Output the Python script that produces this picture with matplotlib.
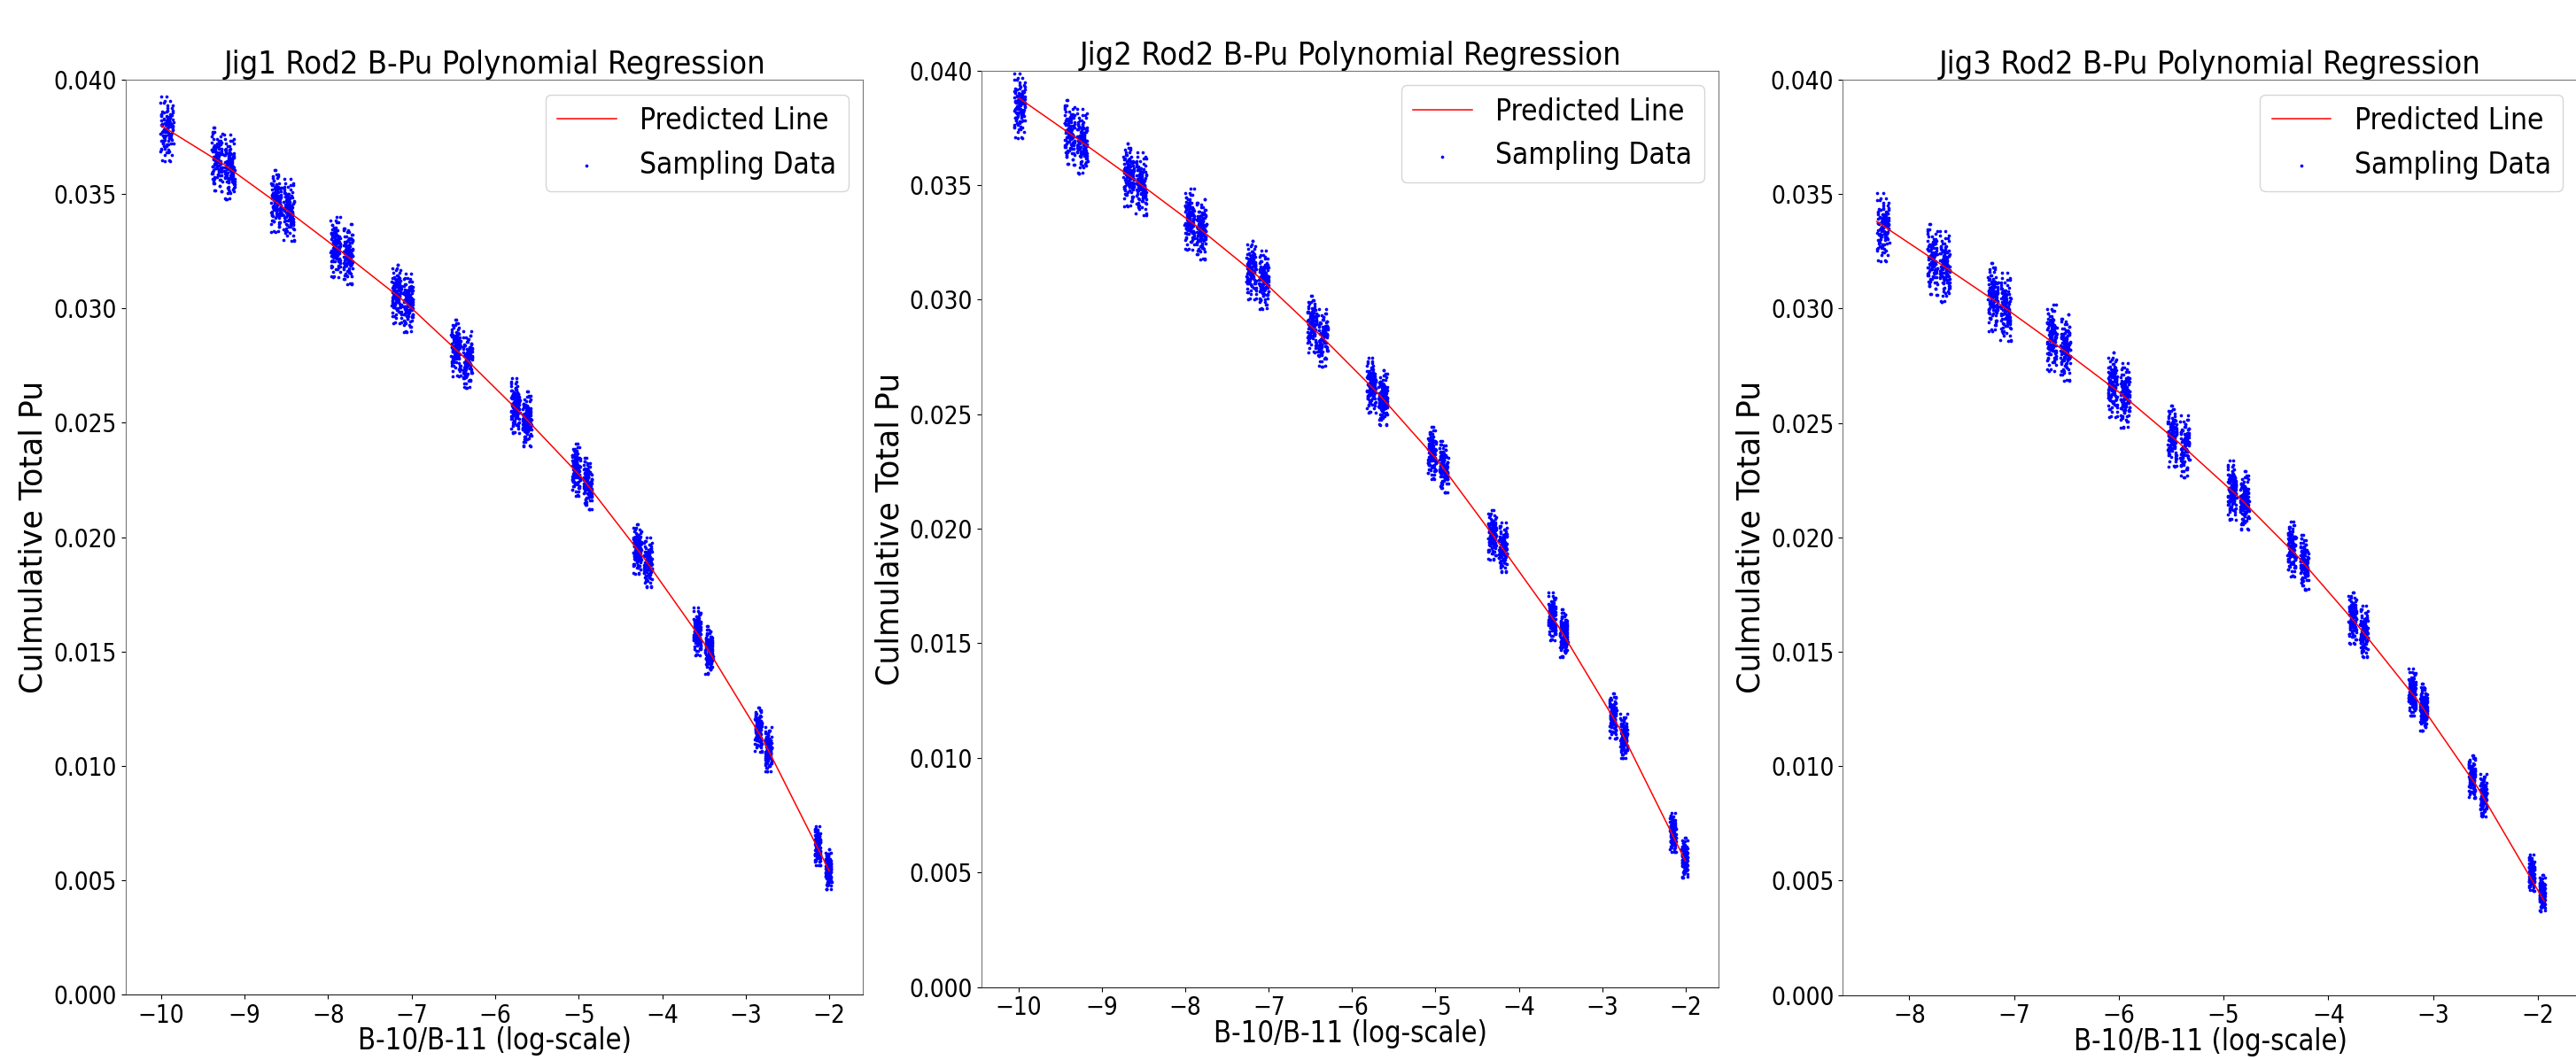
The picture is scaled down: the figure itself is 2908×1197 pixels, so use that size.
import numpy as np
import matplotlib
matplotlib.use("Agg")
import matplotlib.pyplot as plt

titles = ["Jig1 Rod2 B-Pu Polynomial Regression",
          "Jig2 Rod2 B-Pu Polynomial Regression",
          "Jig3 Rod2 B-Pu Polynomial Regression"]

# --- Jig1: centres of each sampling column (log ratio, Pu) and spread
jig1_x = [-9.93, -9.33, -9.18, -8.62, -8.47, -7.91, -7.76, -7.18, -7.04, -6.47, -6.33, -5.76,
          -5.62, -5.03, -4.89, -4.30, -4.17, -3.58, -3.44, -2.85, -2.73, -2.14, -2.01]
jig1_y = [0.03780, 0.03646, 0.03613, 0.03464, 0.03426, 0.03264, 0.03232, 0.03058, 0.03019,
          0.02822, 0.02770, 0.02570, 0.02511, 0.02289, 0.02229, 0.01944, 0.01885, 0.01583,
          0.01502, 0.01155, 0.01067, 0.00647, 0.00543]
jig1_sx = [0.08, 0.065, 0.065, 0.065, 0.065, 0.06, 0.06, 0.06, 0.06, 0.058, 0.058, 0.055,
           0.055, 0.052, 0.052, 0.05, 0.05, 0.046, 0.046, 0.042, 0.042, 0.036, 0.036]
jig1_sy = [0.00068, 0.00068, 0.00068, 0.00066, 0.00066, 0.00064, 0.00064, 0.00062, 0.00062,
           0.0006, 0.0006, 0.00058, 0.00058, 0.00055, 0.00055, 0.00052, 0.00052, 0.0005,
           0.0005, 0.00047, 0.00047, 0.00042, 0.00042]
jig1_line_x = [-10.0, -9.25, -8.55, -7.84, -7.11, -6.40, -5.69, -4.96, -4.23, -3.51, -2.79, -2.0]
jig1_line_y = [0.0380, 0.03630, 0.03445, 0.03248, 0.03038, 0.02796, 0.02540, 0.02259, 0.01914,
               0.01542, 0.01111, 0.0054]

# --- Jig2
jig2_x = [-9.99, -9.39, -9.24, -8.68, -8.53, -7.95, -7.81, -7.21, -7.06, -6.48, -6.35, -5.77,
          -5.63, -5.04, -4.90, -4.32, -4.19, -3.60, -3.46, -2.87, -2.74, -2.15, -2.01]
jig2_y = [0.03841, 0.03723, 0.03686, 0.03538, 0.03501, 0.03346, 0.03302, 0.03124, 0.03080,
          0.02887, 0.02828, 0.02621, 0.02569, 0.02325, 0.02266, 0.01969, 0.01915, 0.01613,
          0.01540, 0.01179, 0.01091, 0.00671, 0.00561]
jig2_sx = [0.07, 0.065, 0.065, 0.065, 0.065, 0.06, 0.06, 0.06, 0.06, 0.058, 0.058, 0.055,
           0.055, 0.052, 0.052, 0.05, 0.05, 0.046, 0.046, 0.042, 0.042, 0.036, 0.036]
jig2_sy = [0.00068, 0.00068, 0.00068, 0.00066, 0.00066, 0.00064, 0.00064, 0.00062, 0.00062,
           0.0006, 0.0006, 0.00058, 0.00058, 0.00055, 0.00055, 0.00052, 0.00052, 0.0005,
           0.0005, 0.00047, 0.00047, 0.00042, 0.00042]
jig2_line_x = [-10.0, -9.31, -8.60, -7.88, -7.13, -6.42, -5.70, -4.97, -4.25, -3.53, -2.80, -2.0]
jig2_line_y = [0.0388, 0.03705, 0.0352, 0.03324, 0.03102, 0.02858, 0.02595, 0.02296, 0.01942,
               0.01577, 0.01135, 0.0055]

# --- Jig3
jig3_x = [-8.25, -7.78, -7.66, -7.20, -7.08, -6.64, -6.51, -6.06, -5.94, -5.49, -5.37, -4.92,
          -4.80, -4.35, -4.23, -3.77, -3.66, -3.20, -3.09, -2.63, -2.52, -2.06, -1.96]
jig3_y = [0.03349, 0.03208, 0.03178, 0.03045, 0.03000, 0.02867, 0.02823, 0.02660, 0.02615,
          0.02438, 0.02393, 0.02201, 0.02156, 0.01945, 0.01886, 0.01643, 0.01584, 0.01319,
          0.01253, 0.00950, 0.00870, 0.00531, 0.00442]
jig3_sx = [0.06, 0.05, 0.05, 0.05, 0.05, 0.048, 0.048, 0.046, 0.046, 0.045, 0.045, 0.043,
           0.043, 0.04, 0.04, 0.038, 0.038, 0.035, 0.035, 0.032, 0.032, 0.028, 0.028]
jig3_sy = [0.00072, 0.00075, 0.00075, 0.00072, 0.00072, 0.0007, 0.0007, 0.00068, 0.00068,
           0.00065, 0.00065, 0.00062, 0.00062, 0.00058, 0.00058, 0.00054, 0.00054, 0.0005,
           0.0005, 0.00045, 0.00045, 0.00038, 0.00038]
jig3_line_x = [-8.31, -7.72, -7.14, -6.58, -6.00, -5.43, -4.86, -4.29, -3.72, -3.15, -2.58, -1.94]
jig3_line_y = [0.0338, 0.03200, 0.03020, 0.02835, 0.02635, 0.02415, 0.02178, 0.01915, 0.01615,
               0.01288, 0.0091, 0.0041]

# hand typed scatter pattern used inside every column (x in column widths, y in spreads)
jit_u = [0.12, -0.55, 0.83, -0.21, 0.40, -0.92, 0.05, 0.67, -0.38, 0.91,
         -0.70, 0.28, -0.06, 0.58, -0.83, 0.19, -0.47, 0.74, -0.15, 0.36,
         0.95, -0.62, 0.09, -0.29, 0.51, -0.88, 0.63, -0.02, 0.31, -0.74,
         0.22, -0.41, 0.87, -0.11, 0.45, -0.97, 0.14, -0.57, 0.70, -0.25,
         0.02, 0.79, -0.66, 0.33, -0.09, 0.55, -0.35, 0.89, -0.79, 0.17,
         -0.50, 0.61, -0.18, 0.43, -0.86, 0.26, -0.31, 0.76, -0.03, 0.48]
jit_v = [0.31, -0.84, 1.12, -0.15, 0.62, -1.35, 0.08, 0.95, -0.47, 1.58,
         -0.72, 0.24, -1.05, 0.41, 0.88, -0.29, 1.74, -0.61, 0.13, -1.92,
         0.52, -0.38, 1.27, -0.06, 0.77, -1.18, 0.19, 2.15, -0.55, 0.36,
         -0.93, 0.68, 0.02, -1.46, 1.03, -0.24, 0.47, -0.71, 1.41, -0.11,
         0.85, -1.62, 0.27, -0.43, 0.59, -0.88, 1.86, -0.02, 0.33, -1.24,
         0.71, -0.33, 0.12, -1.98, 0.98, -0.67, 0.44, -0.19, 1.19, -0.50]

jigs = [
    (jig1_x, jig1_y, jig1_sx, jig1_sy, jig1_line_x, jig1_line_y),
    (jig2_x, jig2_y, jig2_sx, jig2_sy, jig2_line_x, jig2_line_y),
    (jig3_x, jig3_y, jig3_sx, jig3_sy, jig3_line_x, jig3_line_y),
]


def sampling_cloud(cx, cy, sx, sy):
    u = np.array(jit_u)
    v = np.array(jit_v)
    xs, ys = [], []
    for k in range(len(cx)):
        uk = np.roll(u, 7 * k)
        vk = np.roll(v, 11 * k)
        xs.append(cx[k] + sx[k] * uk)
        ys.append(cy[k] + sy[k] * vk)
        xs.append(cx[k] - sx[k] * uk[::-1])
        ys.append(cy[k] + sy[k] * np.roll(vk, 23))
    return np.concatenate(xs), np.concatenate(ys)


# the source images were a little squeezed sideways -> condensed face
plt.rcParams["font.family"] = ["DejaVu Sans"]
plt.rcParams["font.stretch"] = "condensed"

fig = plt.figure(figsize=(29.08, 11.97), dpi=100)

# axes rectangles (the three panels were separate images put side by side)
rects = [
    [0.04869, 0.06182, 0.28642, 0.86299],
    [0.38095, 0.06892, 0.28628, 0.86458],
    [0.71530, 0.06132, 0.28538, 0.86349],
]
xlims = [(-10.426, -1.594), (-10.45, -1.6), (-8.636, -1.62)]
xticks = [range(-10, -1), range(-10, -1), range(-8, -1)]

for i, (cx, cy, sx, sy, lx, ly) in enumerate(jigs):
    ax = fig.add_axes(rects[i])
    px, py = sampling_cloud(cx, cy, sx, sy)
    ax.plot(lx, ly, color="red", linewidth=1.1, label="Predicted Line")
    ax.scatter(px, py, s=7, color="blue", linewidths=0, label="Sampling Data")

    ax.set_xlim(*xlims[i])
    ax.set_ylim(0, 0.04)
    ax.set_xticks(list(xticks[i]))
    ax.set_yticks(np.arange(0, 0.0401, 0.005))
    ax.yaxis.set_major_formatter(matplotlib.ticker.FormatStrFormatter("%.3f"))
    ax.tick_params(labelsize=20)
    for side in ["left", "right", "top"]:
        ax.spines[side].set_color("#777777")
    ax.spines["bottom"].set_color("#222222")

    ax.set_title(titles[i], fontsize=26, pad=1)
    ax.set_xlabel("B-10/B-11 (log-scale)", fontsize=23.5)
    ax.xaxis.set_label_coords(0.5, -0.035)
    ax.set_ylabel("Culmulative Total Pu", fontsize=25, fontstretch="normal")
    ax.legend(loc="upper right", prop={"size": 24, "stretch": "condensed"})

fig.savefig("out.png", dpi=100)
